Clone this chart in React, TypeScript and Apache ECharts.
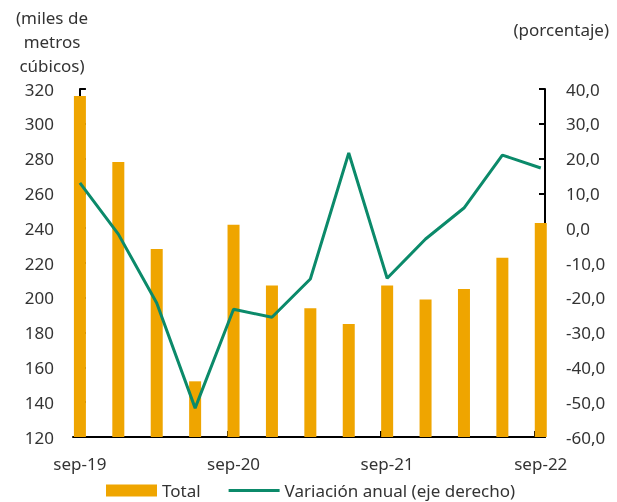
import React, { useEffect, useRef } from "react";
import * as echarts from "echarts";

const periods = [
  "sep-19", "dic-19", "mar-20", "jun-20", "sep-20", "dic-20", "mar-21",
  "jun-21", "sep-21", "dic-21", "mar-22", "jun-22", "sep-22",
];
const totalValues = [316, 278, 228, 152, 242, 207, 194, 185, 207, 199, 205, 223, 243];
const variationValues = [13.0, -1.7, -21.5, -51.7, -23.3, -25.6, -14.6, 21.6, -14.4, -3.1, 5.8, 21.0, 17.3];
const labelIndexes = [0, 4, 8, 12];
const tickPositions = [3.84, 7.84, 11.84];
const leftTitle = "(miles de\nmetros\ncúbicos)";
const rightTitle = "(porcentaje)";
const seriesNames = ["Total", "Variación anual (eje derecho)"];

const FONT = "'Noto Sans', 'Open Sans', sans-serif";
const TEXT = "#333333";
const BAR = "#EFA500";
const LINE = "#0B8A6A";

export default function App() {
  const ref = useRef<HTMLDivElement>(null);
  useEffect(() => {
    if (!ref.current) return;
    const chart = echarts.init(ref.current, null, { renderer: "svg" });
    const fmt = (v: number) => v.toFixed(1).replace(".", ",");
    chart.setOption({
      animation: false,
      textStyle: { fontFamily: FONT, color: TEXT },
      grid: { left: 73, right: 72, top: 89, bottom: 65 },
      legend: {
        left: 101,
        top: 477,
        itemWidth: 51,
        itemHeight: 12,
        itemGap: 28,
        textStyle: { fontSize: 17, color: TEXT, fontFamily: FONT },
        data: [
          { name: seriesNames[0], icon: "rect" },
          { name: seriesNames[1], icon: "path://M0,0 L52,0 L52,3 L0,3 Z" },
        ],
      },
      graphic: [
        {
          type: "text",
          x: 52,
          y: 5,
          style: {
            text: leftTitle,
            font: `17px ${FONT}`,
            fill: TEXT,
            align: "center",
            verticalAlign: "top",
            lineHeight: 24,
          },
        },
        {
          type: "text",
          right: 8,
          top: 21,
          style: { text: rightTitle, font: `17px ${FONT}`, fill: TEXT },
        },
      ],
      xAxis: {
        type: "value",
        min: -0.18,
        max: 12.11,
        splitLine: { show: false },
        axisLine: { show: true, onZero: false, lineStyle: { color: "#000", width: 2 } },
        axisTick: {
          show: true,
          inside: true,
          length: 6,
          customValues: tickPositions,
          lineStyle: { color: "#000", width: 2 },
        },
        axisLabel: {
          customValues: labelIndexes,
          formatter: (v: number) => periods[Math.round(v)] ?? "",
          fontSize: 17,
          color: TEXT,
          margin: 18,
          fontFamily: FONT,
        },
      },
      yAxis: [
        {
          type: "value",
          min: 120,
          max: 320,
          interval: 20,
          splitLine: { show: false },
          axisLine: { show: true, lineStyle: { color: "#000", width: 2 } },
          axisTick: { show: true, inside: true, length: 6, lineStyle: { color: "#000", width: 2 } },
          axisLabel: { fontSize: 17, color: TEXT, margin: 19, fontFamily: FONT },
        },
        {
          type: "value",
          min: -60,
          max: 40,
          interval: 10,
          position: "right",
          splitLine: { show: false },
          axisLine: { show: true, lineStyle: { color: "#000", width: 2 } },
          axisTick: { show: true, inside: true, length: 6, lineStyle: { color: "#000", width: 2 } },
          axisLabel: { fontSize: 17, color: TEXT, margin: 21, fontFamily: FONT, formatter: fmt },
        },
      ],
      series: [
        {
          name: seriesNames[0],
          type: "bar",
          yAxisIndex: 0,
          barWidth: 12,
          itemStyle: { color: BAR },
          data: totalValues.map((v, i) => [i, v]),
        },
        {
          name: seriesNames[1],
          type: "line",
          yAxisIndex: 1,
          symbol: "none",
          lineStyle: { color: LINE, width: 3 },
          itemStyle: { color: LINE },
          data: variationValues.map((v, i) => [i, v]),
        },
      ],
    });
    return () => chart.dispose();
  }, []);
  return (
    <div
      ref={ref}
      style={{ position: "fixed", left: 0, top: 0, width: 617, height: 502 }}
    />
  );
}
